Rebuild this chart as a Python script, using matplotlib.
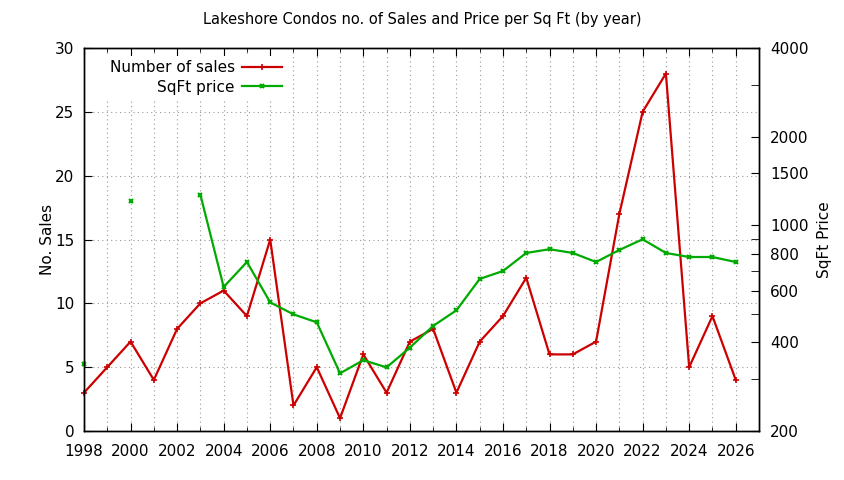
import numpy as np
import matplotlib.pyplot as plt
from matplotlib.ticker import FixedLocator, NullFormatter, MultipleLocator

years = list(range(1998, 2027))
sales = [3, 5, 7, 4, 8, 10, 11, 9, 15, 2, 5, 1, 6, 3, 7, 8, 3, 7, 9, 12,
         6, 6, 7, 17, 25, 28, 5, 9, 4]
# price per sq ft, NaN where no value
price = [338, np.nan, 1211, np.nan, np.nan, 1270, 617, 750, 547, 498, 468,
         314, 348, 329, 384, 455, 514, 657, 699, 805, 829, 805, 750, 824,
         896, 805, 780, 780, 750]

price_ticks = [200, 400, 600, 800, 1000, 1500, 2000, 4000]
price_minor = [300, 500, 700, 900, 3000]

red = "#cc0000"
green = "#00aa00"

fig = plt.figure(figsize=(8.44, 4.80), dpi=100)
ax = fig.add_axes([84 / 844, 49 / 480, 675 / 844, 383 / 480])
ax2 = ax.twinx()

l1, = ax.plot(years, sales, color=red, lw=1.6, marker="+", ms=4, mew=1.2,
              label="Number of sales", clip_on=False)
l2, = ax2.plot(years, price, color=green, lw=1.6, marker="x", ms=3.5, mew=1.5,
               label="SqFt price", clip_on=False)

ax.set_xlim(1998, 2027)
ax.set_ylim(0, 30)
ax.xaxis.set_major_locator(MultipleLocator(2))
ax.xaxis.set_minor_locator(MultipleLocator(1))
ax.yaxis.set_major_locator(MultipleLocator(5))
ax.grid(True, which="both", axis="x", ls=(0, (1, 3)), color="#999999", lw=0.8)
ax.grid(True, which="major", axis="y", ls=(0, (1, 3)), color="#999999", lw=0.8)
ax.tick_params(which="both", direction="in", top=True, labelsize=11)
ax.tick_params(which="major", length=6)
ax.tick_params(which="minor", length=3)
ax.tick_params(axis="x", which="major", pad=9)
ax.tick_params(axis="y", which="major", pad=7)
ax.set_ylabel("No. Sales", fontsize=11, labelpad=0)

ax2.set_yscale("log")
ax2.set_ylim(200, 4000)
ax2.yaxis.set_major_locator(FixedLocator(price_ticks))
ax2.yaxis.set_major_formatter(plt.FuncFormatter(lambda v, p: "%d" % v))
ax2.yaxis.set_minor_locator(FixedLocator(price_minor))
ax2.yaxis.set_minor_formatter(NullFormatter())
ax2.tick_params(which="both", direction="in", labelsize=11)
ax2.tick_params(which="major", length=6, pad=8)
ax2.tick_params(which="minor", length=6)
ax2.set_ylabel("SqFt Price", fontsize=11, labelpad=6)

for a in (ax, ax2):
    for s in a.spines.values():
        s.set_linewidth(1.0)

ax2.set_zorder(ax.get_zorder() + 1)
ax2.patch.set_visible(False)

leg = ax2.legend(handles=[l1, l2], loc="upper left", bbox_to_anchor=(0.02, 1.0),
                 markerfirst=False, frameon=True, framealpha=1, edgecolor="white",
                 fontsize=11, handlelength=2.6, borderpad=0.3, labelspacing=0.3,
                 handletextpad=0.5)
leg.get_frame().set_linewidth(0)

fig.suptitle("Lakeshore Condos no. of Sales and Price per Sq Ft (by year)",
             fontsize=10.5, y=0.975)

fig.savefig("out.png", dpi=100)
